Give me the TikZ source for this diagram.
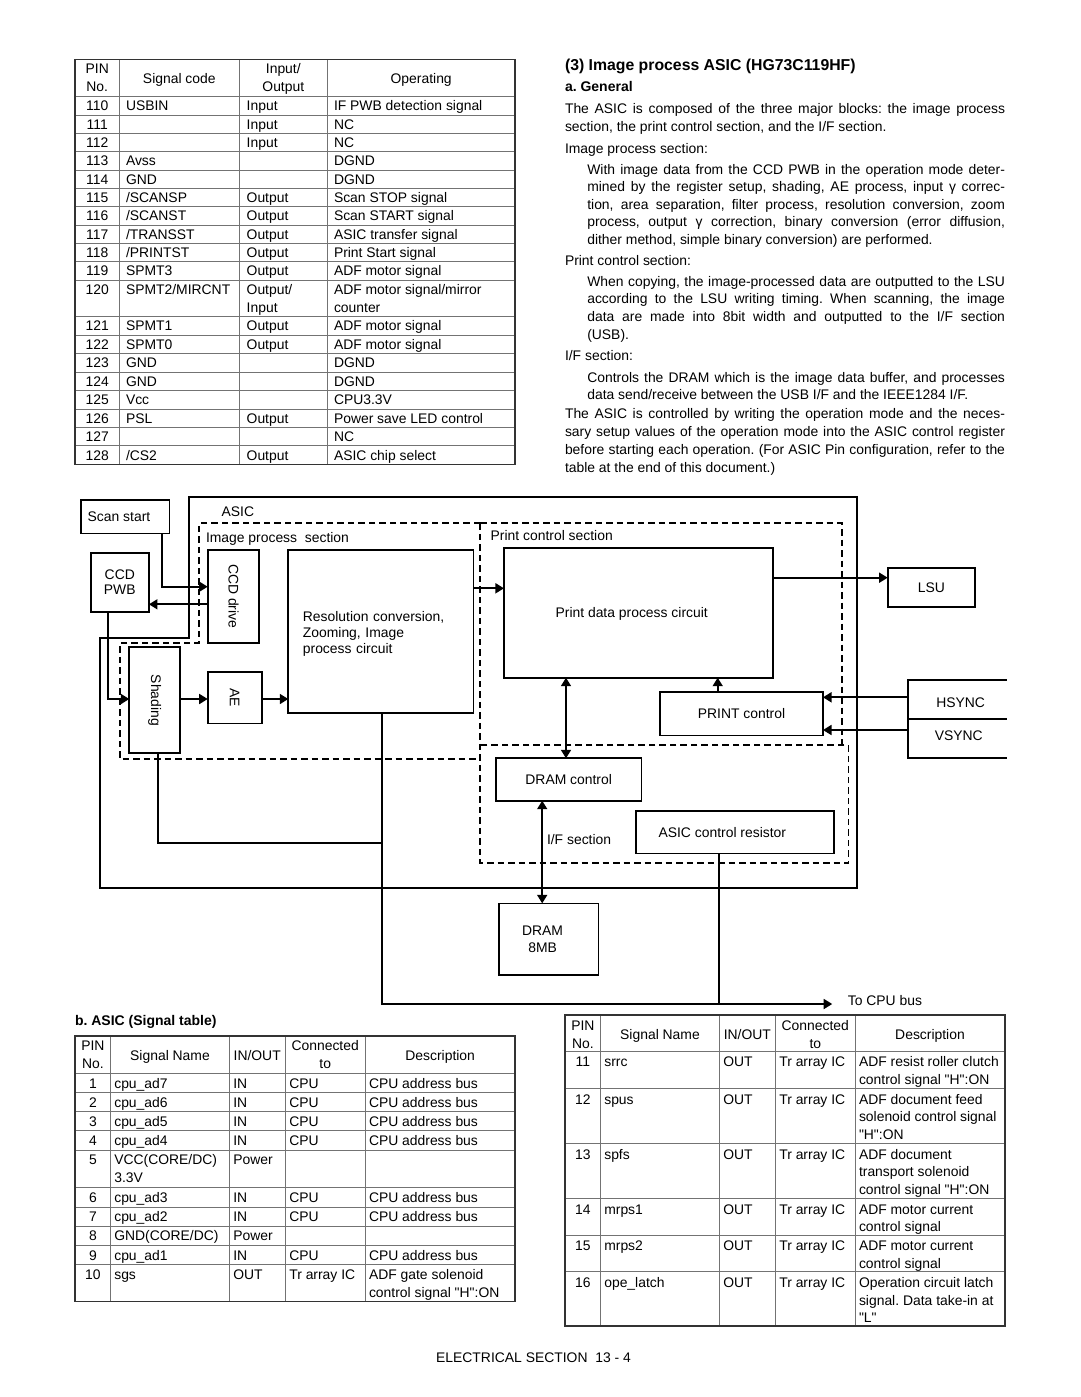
\documentclass[tikz,border=0pt]{standalone}
\usepackage{fontspec}
\setmainfont{Liberation Sans}
\newfontfamily\lsans{Liberation Sans}
\usepackage{graphicx}
\usetikzlibrary{arrows.meta}
\frenchspacing
\newcommand\fsz{\lsans\fontsize{13.9}{18}\selectfont\frenchspacing}
\newcommand\jl[1]{\makebox[\linewidth][s]{#1}\\}
\newcommand\mlt[1]{\begin{tabular}[t]{@{}l@{}}#1\end{tabular}}
\newcommand\mct[1]{\begin{tabular}[t]{@{}c@{}}#1\end{tabular}}
\newcommand\mlr[1]{{\fontsize{13.9}{17.6}\selectfont\begin{tabular}[t]{@{}l@{}}#1\end{tabular}}}
\newcommand\tcell[4]{\if\relax\detokenize{#4}\relax\else\node[tx] (#1) at (#2,#3) {#4};\fi}
\newcommand\tccell[4]{\if\relax\detokenize{#4}\relax\else\node[tc] (#1) at (#2,#3) {#4};\fi}
\newcommand\arow[5]{\tccell{a#2n}{97.2}{#1}{#2}\tcell{a#2s}{126}{#1}{#3}\tcell{a#2i}{246.7}{#1}{#4}\tcell{a#2o}{334}{#1}{#5}}
\newcommand\brow[6]{\tccell{b#2n}{92.9}{#1}{#2}\tcell{b#2s}{114.3}{#1}{#3}\tcell{b#2i}{233.3}{#1}{#4}\tcell{b#2c}{289.3}{#1}{#5}\tcell{b#2d}{369}{#1}{#6}}
\newcommand\crow[6]{\tccell{c#2n}{582.9}{#1}{#2}\tcell{c#2s}{604.3}{#1}{#3}\tcell{c#2i}{723.3}{#1}{#4}\tcell{c#2c}{779.3}{#1}{#5}\tcell{c#2d}{859}{#1}{#6}}
\begin{document}
\begin{tikzpicture}[x=1pt,y=-1pt,
  every node/.style={inner sep=0pt,outer sep=0pt,font=\fsz},
  tx/.style={anchor=base west},
  tc/.style={anchor=base},
  ln/.style={line width=1.7pt},
  box/.style={draw,line width=1.7pt},
  one/.style={text height=10pt,text depth=0pt},
  dsh/.style={line width=1.7pt,dash pattern=on 6.5pt off 4pt},
  arr/.style={line width=1.7pt,-{Triangle[length=8.5pt,width=10pt]}},
  dbl/.style={line width=1.7pt,{Triangle[length=8.5pt,width=10pt]}-{Triangle[length=8.5pt,width=10pt]}},
  tin/.style={line width=1pt,draw=black!55},
  tout/.style={line width=1.5pt,draw=black!80}]
\fill[white] (0,0) rectangle (1080,1397);
\useasboundingbox (0,0) rectangle (1080,1397);

% ---------------- top-left table ----------------
\foreach \yy in {96.7,115,133.3,151.7,170,188.3,206.7,225,243.3,261.7,280,316.7,335.2,353.6,372,390.5,409,427.4,445.9}
  \draw[tin] (75,\yy) -- (515,\yy);
\foreach \xx in {119.3,239.3,327.3}
  \draw[tin] (\xx,59.7) -- (\xx,464.3);
\draw[tout] (75,59.7) rectangle (515,464.3);
\node[tc] (ah1) at (97.2,74) {\mct{PIN\\No.}};
\node[tc] (ah2) at (179.3,83.3) {Signal code};
\node[tc] (ah3) at (283.3,74) {\mct{Input/\\Output}};
\node[tc] (ah4) at (421.2,83.3) {Operating};
\arow{110.9}{110}{USBIN}{Input}{IF PWB detection signal}
\arow{129.2}{111}{}{Input}{NC}
\arow{147.5}{112}{}{Input}{NC}
\arow{165.8}{113}{Avss}{}{DGND}
\arow{184.2}{114}{GND}{}{DGND}
\arow{202.5}{115}{/SCANSP}{Output}{Scan STOP signal}
\arow{220.8}{116}{/SCANST}{Output}{Scan START signal}
\arow{239.2}{117}{/TRANSST}{Output}{ASIC transfer signal}
\arow{257.5}{118}{/PRINTST}{Output}{Print Start signal}
\arow{275.8}{119}{SPMT3}{Output}{ADF motor signal}
\arow{294.2}{120}{SPMT2/MIRCNT}{\mlt{Output/\\Input}}{\mlt{ADF motor signal/mirror\\counter}}
\arow{330.9}{121}{SPMT1}{Output}{ADF motor signal}
\arow{349.4}{122}{SPMT0}{Output}{ADF motor signal}
\arow{367.8}{123}{GND}{}{DGND}
\arow{386.3}{124}{GND}{}{DGND}
\arow{404.7}{125}{Vcc}{}{CPU3.3V}
\arow{423.2}{126}{PSL}{Output}{Power save LED control}
\arow{441.6}{127}{}{}{NC}
\arow{460.1}{128}{/CS2}{Output}{ASIC chip select}

% ---------------- top-right text ----------------
\node[tx,font=\lsans\fontsize{15.8}{19}\selectfont\bfseries] (title) at (565,70.7) {(3) Image process ASIC (HG73C119HF)};
\node[tx,font=\lsans\fontsize{14}{18}\selectfont\bfseries] (gen) at (565,92) {a. General};
\node[tx] (p1) at (565,113.3) {\parbox[t]{440pt}{\setlength\baselineskip{18pt}%
\jl{The ASIC is composed of the three major blocks: the image process}%
section, the print control section, and the I/F section.}};
\node[tx] (p2) at (565,153) {Image process section:};
\node[tx] (p3) at (587.3,174) {\parbox[t]{417.7pt}{\setlength\baselineskip{17.5pt}%
\jl{With image data from the CCD PWB in the operation mode deter-}%
\jl{mined by the register setup, shading, AE process, input γ correc-}%
\jl{tion, area separation, filter process, resolution conversion, zoom}%
\jl{process, output γ correction, binary conversion (error diffusion,}%
dither method, simple binary conversion) are performed.}};
\node[tx] (p4) at (565,265) {Print control section:};
\node[tx] (p5) at (587.3,286) {\parbox[t]{417.7pt}{\setlength\baselineskip{17.7pt}%
\jl{When copying, the image-processed data are outputted to the LSU}%
\jl{according to the LSU writing timing. When scanning, the image}%
\jl{data are made into 8bit width and outputted to the I/F section}%
(USB).}};
\node[tx] (p6) at (565,360) {I/F section:};
\node[tx] (p7) at (587.3,382) {\parbox[t]{417.7pt}{\setlength\baselineskip{17.3pt}%
\jl{Controls the DRAM which is the image data buffer, and processes}%
data send/receive between the USB I/F and the IEEE1284 I/F.}};
\node[tx] (p8) at (565,418) {\parbox[t]{440pt}{\setlength\baselineskip{18.3pt}%
\jl{The ASIC is controlled by writing the operation mode and the neces-}%
\jl{sary setup values of the operation mode into the ASIC control register}%
\jl{before starting each operation. (For ASIC Pin configuration, refer to the}%
table at the end of this document.)}};

% ---------------- block diagram ----------------
\draw[ln] (189,497.3) -- (857.3,497.3) -- (857.3,888.3) -- (100,888.3) -- (100,637.7) -- (189,637.7) -- cycle;
\draw[dsh] (480,523.3) -- (199,523.3) -- (199,643) -- (120,643) -- (120,759.3) -- (480,759.3);
\draw[dsh] (480,523.3) -- (841.7,523.3) -- (841.7,745);
\draw[dsh] (480,523.3) -- (480,862.7) -- (848.4,862.7) -- (848.4,745) -- (480,745);

\node[tx] (asiclbl) at (221.7,516.7) {ASIC};
\node[tx] (iplbl) at (206,542.7) {Image process\ \ section};
\node[tx] (pclbl) at (490.7,540.7) {Print control section};
\node[tx] (iflbl) at (547,844) {I/F section};

\node[box,one,minimum width=88.3,minimum height=33.3] (scan) at (125.2,516.7) {\hspace*{-12.4pt}Scan start};
\node[box,minimum width=58.3,minimum height=59,align=center,font=\lsans\fontsize{13.9}{15.7}\selectfont] (ccdpwb) at (119.8,582.2) {CCD\\PWB};
\node[box,minimum width=51.6,minimum height=92.7] (ccddrive) at (233.5,596.3) {\rotatebox{-90}{CCD drive}};
\node[box,minimum width=185.2,minimum height=162.7,align=left,text width=156pt,font=\lsans\fontsize{13.9}{16.3}\selectfont] (resol) at (380.9,631.3) {\rule{0pt}{15pt}Resolution conversion,\\Zooming, Image\\process circuit};
\node[box,minimum width=51,minimum height=106] (shading) at (154.8,700.3) {\rotatebox{-90}{Shading}};
\node[box,minimum width=54,minimum height=51.3] (ae) at (234.7,697.7) {\rotatebox{-90}{AE}};
\node[box,one,minimum width=268.7,minimum height=130] (printdata) at (638.3,612.7) {\hspace*{-13.2pt}Print data process circuit};
\node[box,one,minimum width=87.3,minimum height=38.4] (lsu) at (931.3,587.5) {LSU};
\node[box,one,minimum width=163,minimum height=43.3] (printctl) at (741.5,713.7) {PRINT control};
\node[box,one,minimum width=145.5,minimum height=42.4] (dramctl) at (568.7,779.5) {DRAM control};
\node[box,one,minimum width=197.7,minimum height=42.3] (asicreg) at (734.8,832.2) {\hspace*{-25pt}ASIC control resistor};
\node[box,minimum width=99.2,minimum height=71.7] (dram) at (548.9,939.2) {};
\node[align=center,font=\lsans\fontsize{13.9}{17.3}\selectfont] (dramtxt) at (542.6,939.6) {DRAM\\8MB};

\node[minimum width=98.2,minimum height=77.7] (syncbox) at (957.4,718.85) {};
\draw[ln] (syncbox.north east) -- (syncbox.north west) -- (syncbox.south west) -- (syncbox.south east);
\draw[ln] (syncbox.west) -- (syncbox.east);
\node[tc] (hsync) at (960.7,707.3) {HSYNC};
\node[tc] (vsync) at (958.7,740) {VSYNC};

\coordinate (k1) at (162.3,586.7);
\coordinate (k2) at (180,604.3);
\coordinate (k3) at (107.7,699);
\coordinate (k4) at (480,588.3);
\coordinate (k5) at (800,577.7);
\coordinate (k6) at (717.7,685);
\coordinate (k7) at (566,720);
\coordinate (k8) at (542.2,850);
\coordinate (k9) at (900,697.3);
\coordinate (k10) at (900,730);
\coordinate (k11) at (157.7,843.3);
\coordinate (k12) at (382.3,1004);
\coordinate (k13) at (718.9,1004);
\coordinate (cpu) at (832.2,1004);

\draw[arr] (scan.south -| k1) |- (ccddrive.west |- k1);
\draw[arr] (ccddrive.west |- k2) -- (ccdpwb.east |- k2);
\draw[arr] (ccdpwb.south -| k3) |- (shading.west |- k3);
\draw[arr] (shading.east |- k3) -- (ae.west |- k3);
\draw[arr] (ae.east |- k3) -- (resol.west |- k3);
\draw[arr] (resol.east |- k4) -- (printdata.west |- k4);
\draw[arr] (printdata.east |- k5) -- (lsu.west |- k5);
\draw[arr] (printctl.north -| k6) -- (printdata.south -| k6);
\draw[dbl] (printdata.south -| k7) -- (dramctl.north -| k7);
\draw[dbl] (dramctl.south -| k8) -- (dram.north -| k8);
\draw[arr] (syncbox.west |- k9) -- (printctl.east |- k9);
\draw[arr] (syncbox.west |- k10) -- (printctl.east |- k10);
\draw[ln] (shading.south -| k11) |- (k12 |- k11);
\draw[arr] (resol.south -| k12) |- (cpu);
\draw[ln] (asicreg.south -| k13) -- (k13);
\node[tx] (cpulbl) at (847.8,1005.7) {To CPU bus};

% ---------------- bottom-left table ----------------
\node[tx,font=\lsans\fontsize{14}{18}\selectfont\bfseries] (sigtitle) at (75,1025) {b. ASIC (Signal table)};
\foreach \yy in {1073.3,1092.7,1111.7,1130.7,1150,1187.3,1207,1226.3,1245.3,1264.7}
  \draw[tin] (75,\yy) -- (515,\yy);
\foreach \xx in {110.7,229.3,285,365.3}
  \draw[tin] (\xx,1036) -- (\xx,1301.7);
\draw[tout] (75,1036) rectangle (515,1301.7);
\node[tc] (bh1) at (92.9,1050.7) {\mct{PIN\\No.}};
\node[tc] (bh2) at (170,1060) {Signal Name};
\node[tc] (bh3) at (257.2,1060) {IN/OUT};
\node[tc] (bh4) at (325.2,1050.7) {\mct{Connected\\to}};
\node[tc] (bh5) at (440.2,1060) {Description};
\brow{1088}{1}{cpu\_ad7}{IN}{CPU}{CPU address bus}
\brow{1107.2}{2}{cpu\_ad6}{IN}{CPU}{CPU address bus}
\brow{1126.2}{3}{cpu\_ad5}{IN}{CPU}{CPU address bus}
\brow{1145.3}{4}{cpu\_ad4}{IN}{CPU}{CPU address bus}
\brow{1164.7}{5}{\mlt{VCC(CORE/DC)\\3.3V}}{Power}{}{}
\brow{1202.2}{6}{cpu\_ad3}{IN}{CPU}{CPU address bus}
\brow{1221.7}{7}{cpu\_ad2}{IN}{CPU}{CPU address bus}
\brow{1240.8}{8}{GND(CORE/DC)}{Power}{}{}
\brow{1260}{9}{cpu\_ad1}{IN}{CPU}{CPU address bus}
\brow{1279.3}{10}{sgs}{OUT}{Tr array IC}{\mlt{ADF gate solenoid\\control signal "H":ON}}

% ---------------- bottom-right table ----------------
\foreach \yy in {1051.7,1088.3,1143.3,1198.3,1235,1271.7}
  \draw[tin] (565,\yy) -- (1005,\yy);
\foreach \xx in {600.7,719.3,775.3,855.3}
  \draw[tin] (\xx,1015) -- (\xx,1326);
\draw[tout] (565,1015) rectangle (1005,1326);
\node[tc] (ch1) at (582.9,1030) {\mct{PIN\\No.}};
\node[tc] (ch2) at (660,1039) {Signal Name};
\node[tc] (ch3) at (747.3,1039) {IN/OUT};
\node[tc] (ch4) at (815.3,1030) {\mct{Connected\\to}};
\node[tc] (ch5) at (930,1039) {Description};
\crow{1066.7}{11}{srrc}{OUT}{Tr array IC}{\mlr{ADF resist roller clutch\\control signal "H":ON}}
\crow{1104.3}{12}{spus}{OUT}{Tr array IC}{\mlr{ADF document feed\\solenoid control signal\\"H":ON}}
\crow{1159}{13}{spfs}{OUT}{Tr array IC}{\mlr{ADF document\\transport solenoid\\control signal "H":ON}}
\crow{1214}{14}{mrps1}{OUT}{Tr array IC}{\mlr{ADF motor current\\control signal}}
\crow{1250.7}{15}{mrps2}{OUT}{Tr array IC}{\mlr{ADF motor current\\control signal}}
\crow{1287.7}{16}{ope\_latch}{OUT}{Tr array IC}{\mlr{Operation circuit latch\\signal. Data take-in at\\"L"}}

\node[tc] (foot) at (533.5,1362) {ELECTRICAL SECTION\ \ 13 - 4};
\end{tikzpicture}
\end{document}
